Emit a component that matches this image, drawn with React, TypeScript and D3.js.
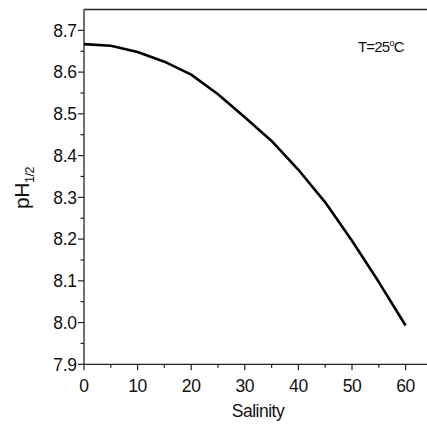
import React from "react";
import * as d3 from "d3";

const salinity = [0, 5, 10, 15, 20, 25, 30, 35, 40, 45, 50, 55, 60];
const ph = [8.667, 8.663, 8.648, 8.625, 8.594, 8.547, 8.492, 8.435, 8.366, 8.288, 8.196, 8.097, 7.993];
const xTicks = [0, 10, 20, 30, 40, 50, 60];
const xMinor = [5, 15, 25, 35, 45, 55];
const yTicks = [7.9, 8.0, 8.1, 8.2, 8.3, 8.4, 8.5, 8.6, 8.7];
const yMinor = [7.95, 8.05, 8.15, 8.25, 8.35, 8.45, 8.55, 8.65];

const W = 427;
const H = 432;
const FONT = "Liberation Sans, Arial, sans-serif";

export default function App() {
  const x = d3.scaleLinear().domain([0, 65]).range([84, 432.4]);
  const y = d3.scaleLinear().domain([7.9, 8.75]).range([364.3, 9.5]);
  const line = d3
    .line<number>()
    .x((_, i) => x(salinity[i]))
    .y((d) => y(d));
  const axisColor = "#222";
  return (
    <svg
      width={W}
      height={H}
      style={{ position: "absolute", left: 0, top: 0, background: "#fff" }}
      fontFamily={FONT}
    >
      {/* frame */}
      <line x1={x(0)} x2={W + 5} y1={y(8.75)} y2={y(8.75)} stroke={axisColor} strokeWidth={1.3} />
      <line x1={x(0)} x2={x(0)} y1={y(8.75)} y2={y(7.9)} stroke={axisColor} strokeWidth={1.3} />
      <line x1={x(0)} x2={W + 5} y1={y(7.9)} y2={y(7.9)} stroke={axisColor} strokeWidth={1.3} />
      {/* x ticks */}
      {xTicks.map((t) => (
        <g key={"xt" + t}>
          <line x1={x(t)} x2={x(t)} y1={y(7.9)} y2={y(7.9) + 6} stroke={axisColor} strokeWidth={1.2} />
          <text x={x(t)} y={391.5} fontSize={17.5} textAnchor="middle" fill="#111" letterSpacing={-0.4}>
            {t}
          </text>
        </g>
      ))}
      {xMinor.map((t) => (
        <line key={"xm" + t} x1={x(t)} x2={x(t)} y1={y(7.9)} y2={y(7.9) + 3.5} stroke={axisColor} strokeWidth={1.2} />
      ))}
      {/* y ticks */}
      {yTicks.map((t) => (
        <g key={"yt" + t}>
          <line x1={x(0) - 6} x2={x(0)} y1={y(t)} y2={y(t)} stroke={axisColor} strokeWidth={1.2} />
          <text x={76.5} y={y(t) + 6.2} fontSize={17.5} textAnchor="end" fill="#111" letterSpacing={-0.4}>
            {t.toFixed(1)}
          </text>
        </g>
      ))}
      {yMinor.map((t) => (
        <line key={"ym" + t} x1={x(0) - 3.5} x2={x(0)} y1={y(t)} y2={y(t)} stroke={axisColor} strokeWidth={1.2} />
      ))}
      {/* curve */}
      <path d={line(ph) || ""} fill="none" stroke="#000" strokeWidth={2.6} strokeLinejoin="round" />
      {/* axis titles */}
      <text x={258} y={417} fontSize={17.5} textAnchor="middle" fill="#111" letterSpacing={-0.5}>
        Salinity
      </text>
      <text transform="translate(29,188) rotate(-90)" fontSize={21} textAnchor="middle" fill="#111" letterSpacing={-0.5}>
        pH<tspan fontSize={12.5} dy={5}>1/2</tspan>
      </text>
      <text x={358} y={52} fontSize={15} fill="#111" letterSpacing={-0.8}>
        T=25<tspan fontSize={9} dy={-6}>o</tspan>
        <tspan dy={6}>C</tspan>
      </text>
    </svg>
  );
}
